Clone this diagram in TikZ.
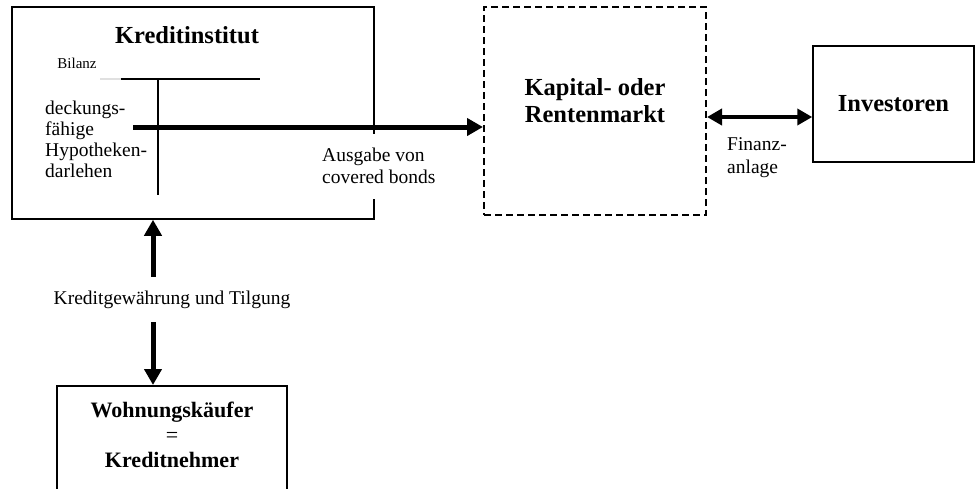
\documentclass[tikz,border=0pt]{standalone}
\usepackage{fontspec}
\setmainfont{Liberation Serif}
\usetikzlibrary{arrows.meta}

\begin{document}
\begin{tikzpicture}[x=1pt,y=-1pt,
  box/.style={draw,line width=1.5pt,rectangle,inner sep=0pt},
  marketbox/.style={draw,line width=2pt,dash pattern=on 7pt off 4pt,inner sep=0pt},
  heading/.style={font=\fontsize{24.5}{27}\selectfont\bfseries,align=center,inner sep=0pt},
  plain/.style={font=\fontsize{19.5}{21}\selectfont,align=left,inner sep=0pt},
  fatarrow/.style={line width=5pt,-{Triangle[length=16pt,width=17pt]}},
  dblarrow/.style={line width=4pt,{Triangle[length=15pt,width=16pt]}-{Triangle[length=15pt,width=16pt]}}]
\useasboundingbox (0,0) rectangle (976,488);
\clip (0,0) rectangle (976,488);
% Kreditinstitut with balance sheet
\node[box,minimum width=362pt,minimum height=212pt] (bank) at (193,113) {};
\node[heading] (banklabel) at (187,35) {Kreditinstitut};
\node[font=\fontsize{15}{17}\selectfont,inner sep=0pt] (bilanz) at (77,63) {Bilanz};
\coordinate (tl) at (121,79);
\coordinate (tr) at (260,79);
\coordinate (tb) at (158,195);
\draw[line width=1.5pt,black!12] (100,79) -- (tl);
\draw[line width=1.5pt] (tl) -- (tr);
\draw[line width=1.5pt] (tl -| tb) -- (tb);
\node[plain,anchor=west] (assets) at (45,139) {deckungs-\\fähige\\Hypotheken-\\darlehen};
\node[plain,font=\fontsize{19.5}{22}\selectfont,fill=white,inner sep=2pt,minimum height=65pt,anchor=west] (issue) at (320,166) {Ausgabe von\\covered bonds};
% Kapital- oder Rentenmarkt
\node[marketbox,minimum width=222pt,minimum height=208pt] (market) at (595,111) {};
\node[heading] (marketlabel) at (595,101) {Kapital- oder\\Rentenmarkt};
% Investoren
\node[box,heading,minimum width=161pt,minimum height=116pt] (inv) at (893.5,104) {Investoren};
\node[plain,font=\fontsize{19.5}{23}\selectfont,anchor=west] (finanz) at (727,158) {Finanz-\\anlage};
% Wohnungskaeufer
\node[box,minimum width=230pt,minimum height=120pt,anchor=north] (buyer) at (172,385) {};
\node[heading,font=\fontsize{22}{25}\selectfont\bfseries] (buyerlabel) at (172,435) {Wohnungskäufer\\{\mdseries =}\\Kreditnehmer};
\node[plain,align=center,minimum height=45pt] (lend) at (172,299.5) {Kreditgewährung und Tilgung};
% arrows
\coordinate (src) at (133,127);
\coordinate (ax) at (153,0);
\draw[fatarrow] (src) -- (src -| market.west);
\draw[dblarrow] ([yshift=-6pt]market.east) -- ([yshift=-6pt]market.east -| inv.west);
\draw[fatarrow] (lend.north -| ax) -- (ax |- bank.south);
\draw[fatarrow] (lend.south -| ax) -- (ax |- buyer.north);
\end{tikzpicture}
\end{document}
